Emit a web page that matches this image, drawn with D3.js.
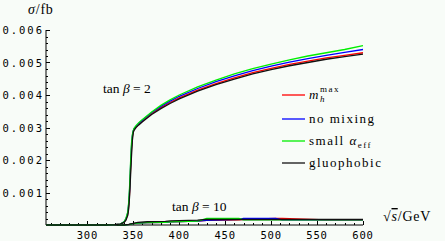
<!DOCTYPE html>
<html><head><meta charset="utf-8">
<script src="https://cdn.jsdelivr.net/npm/d3@7"></script>
<style>
html,body{margin:0;padding:0;background:#f8fcf8;}
svg{display:block;}
</style></head>
<body>
<script>
// ---- data ----
const xTicks = [300, 350, 400, 450, 500, 550, 600];
const yTicks = [0.001, 0.002, 0.003, 0.004, 0.005, 0.006];
const yTickLabels = ["0.001", "0.002", "0.003", "0.004", "0.005", "0.006"];
const seriesNames = ["mhmax", "no mixing", "small αeff", "gluophobic"];
const seriesColors = ["#ff0000", "#0000ff", "#00ee00", "#111111"];

// tan beta = 2
const s2 = [255, 320, 330, 336, 340, 342, 344, 345, 346, 347, 348, 349, 350, 351, 353, 356, 360, 370, 380, 390, 400, 420, 440, 460, 480, 500, 520, 540, 560, 580, 600];
const red2 = [0, 0, 0.00001, 0.00003, 0.00009, 0.00017, 0.00034, 0.00058, 0.0010, 0.0017, 0.0023, 0.0027, 0.00288, 0.00295, 0.00302, 0.0031, 0.0032, 0.00343, 0.00361, 0.00377, 0.00391, 0.00415, 0.00435, 0.00453, 0.00469, 0.00482, 0.00494, 0.00504, 0.00514, 0.00522, 0.0053];
const blue2 = [0, 0, 0.00001, 0.00003, 0.0001, 0.00019, 0.00038, 0.00065, 0.0011, 0.0018, 0.0024, 0.00275, 0.0029, 0.00297, 0.00304, 0.00313, 0.00323, 0.00346, 0.00365, 0.00381, 0.00396, 0.0042, 0.00441, 0.00459, 0.00475, 0.00489, 0.00501, 0.00512, 0.00522, 0.00531, 0.0054];
const green2 = [0, 0, 0.00001, 0.00003, 0.0001, 0.0002, 0.0004, 0.0007, 0.0012, 0.0019, 0.0025, 0.00278, 0.00291, 0.00298, 0.00306, 0.00315, 0.00325, 0.00348, 0.00368, 0.00385, 0.0040, 0.00425, 0.00446, 0.00465, 0.00481, 0.00495, 0.00508, 0.0052, 0.0053, 0.0054, 0.00552];
const black2 = [0, 0, 0.00001, 0.00003, 0.00008, 0.00015, 0.0003, 0.0005, 0.0009, 0.0015, 0.0021, 0.0026, 0.00285, 0.00292, 0.0030, 0.00308, 0.00318, 0.0034, 0.00358, 0.00374, 0.00388, 0.00412, 0.00432, 0.00449, 0.00465, 0.00478, 0.0049, 0.0050, 0.0051, 0.00518, 0.00526];

// tan beta = 10
const s10 = [255, 340, 345, 350, 355, 365, 385, 390, 420, 430, 465, 470, 505, 512, 560, 600];
const red10 = [0, 0, 0.00001, 0.00004, 0.00006, 0.00007, 0.00008, 0.0001, 0.00012, 0.00014, 0.00016, 0.00017, 0.0002, 0.0002, 0.00016, 0.00016];
const blue10 = [0, 0, 0.00001, 0.00004, 0.00006, 0.00007, 0.00008, 0.0001, 0.00012, 0.00014, 0.00017, 0.0002, 0.0002, 0.00016, 0.00016, 0.00016];
const green10 = [0, 0, 0.00001, 0.00004, 0.00006, 0.00007, 0.00008, 0.0001, 0.00012, 0.0002, 0.0002, 0.00016, 0.00016, 0.00016, 0.00016, 0.00016];
const black10 = [0, 0, 0.00002, 0.00005, 0.00008, 0.0001, 0.00011, 0.00013, 0.00015, 0.00017, 0.00017, 0.00017, 0.00017, 0.00017, 0.00017, 0.00017];

// ---- drawing ----
const W = 445, H = 241;
const svg = d3.select("body").append("svg").attr("width", W).attr("height", H);
const x = d3.scaleLinear().domain([255, 600]).range([46, 363]);
const y = d3.scaleLinear().domain([0, 0.006]).range([225, 30]);

const mono = "'DejaVu Sans Mono', 'Liberation Mono', monospace";
const serif = "'Liberation Serif', 'DejaVu Serif', serif";

// axes lines
svg.append("line").attr("x1", x(255)).attr("x2", x(600)).attr("y1", y(0)).attr("y2", y(0)).attr("stroke", "#000").attr("stroke-width", 1);
svg.append("line").attr("x1", x(255)).attr("x2", x(255)).attr("y1", y(0)).attr("y2", y(0.006)).attr("stroke", "#000").attr("stroke-width", 1);

// y ticks
const yMinor = d3.range(1, 31).map(i => i * 0.0002);
svg.selectAll(".ymin").data(yMinor).enter().append("line")
  .attr("x1", x(255)).attr("x2", d => x(255) + (Math.abs(d * 1000 - Math.round(d * 1000)) < 1e-6 ? 4 : 2))
  .attr("y1", d => Math.round(y(d)) + 0.5).attr("y2", d => Math.round(y(d)) + 0.5)
  .attr("stroke", "#000").attr("stroke-width", 1);
svg.selectAll(".ylab").data(yTicks).enter().append("text")
  .attr("x", 44).attr("y", d => y(d) + 4)
  .attr("text-anchor", "end").attr("font-family", mono).attr("font-size", 10.5)
  .attr("letter-spacing", "2px")
  .text((d, i) => yTickLabels[i]);

// x ticks
const xMinor = d3.range(260, 601, 10);
svg.selectAll(".xmin").data(xMinor).enter().append("line")
  .attr("x1", d => Math.round(x(d)) + 0.5).attr("x2", d => Math.round(x(d)) + 0.5)
  .attr("y1", y(0)).attr("y2", d => y(0) - (d % 50 === 0 ? 4 : 2))
  .attr("stroke", "#000").attr("stroke-width", 1);
svg.selectAll(".xlab").data(xTicks).enter().append("text")
  .attr("x", d => x(d)).attr("y", 239)
  .attr("text-anchor", "middle").attr("font-family", mono).attr("font-size", 10.5)
  .attr("letter-spacing", "0.8px")
  .text(d => d);

// curves
const line = d3.line().x(d => x(d[0])).y(d => y(d[1]));
function draw(sArr, vals, color) {
  svg.append("path").datum(sArr.map((s, i) => [s, vals[i]]))
    .attr("d", line).attr("fill", "none").attr("stroke", color).attr("stroke-width", 1.3);
}
[red10, blue10, green10].forEach((v, i) => draw(s10, v, seriesColors[i]));
draw(s10, black10, seriesColors[3]);
[red2, blue2, green2, black2].forEach((v, i) => draw(s2, v, seriesColors[i]));

// axis labels
const sig = svg.append("text").attr("x", 28).attr("y", 14).attr("font-family", serif).attr("font-size", 14).attr("letter-spacing", "0.8px");
sig.append("tspan").attr("font-style", "italic").text("σ");
sig.append("tspan").text("/fb");

const sq = svg.append("text").attr("x", 383).attr("y", 221).attr("font-family", serif).attr("font-size", 14).attr("letter-spacing", "0.8px");
sq.append("tspan").text("√");
sq.append("tspan").attr("font-style", "italic").attr("text-decoration", "overline").text("s");
sq.append("tspan").text("/GeV");

// annotations
function tanb(xp, yp, val) {
  const t = svg.append("text").attr("x", xp).attr("y", yp).attr("font-family", serif).attr("font-size", 13.5);
  t.append("tspan").text("tan ");
  t.append("tspan").attr("font-style", "italic").text("β");
  t.append("tspan").text(" = " + val);
}
tanb(103, 93, 2);
tanb(172, 211, 10);

// legend
const legY = [95, 119, 141, 163];
seriesNames.forEach((n, i) => {
  svg.append("line").attr("x1", 282).attr("x2", 305).attr("y1", legY[i]).attr("y2", legY[i])
    .attr("stroke", seriesColors[i]).attr("stroke-width", 1.3);
  const t = svg.append("text").attr("x", 309).attr("y", legY[i] + 4)
    .attr("font-family", serif).attr("font-size", 13).attr("letter-spacing", "1.5px");
  if (i === 0) {
    t.append("tspan").attr("font-style", "italic").text("m");
    t.append("tspan").attr("font-size", 9).attr("font-style", "italic").attr("dy", 3).text("h");
    t.append("tspan").attr("font-size", 9).attr("dx", -6).attr("dy", -10).text("max");
  } else if (i === 2) {
    t.append("tspan").text("small ");
    t.append("tspan").attr("font-style", "italic").text("α");
    t.append("tspan").attr("font-size", 9).attr("dy", 3).text("eff");
  } else {
    t.text(n);
  }
});
</script>
</body></html>
